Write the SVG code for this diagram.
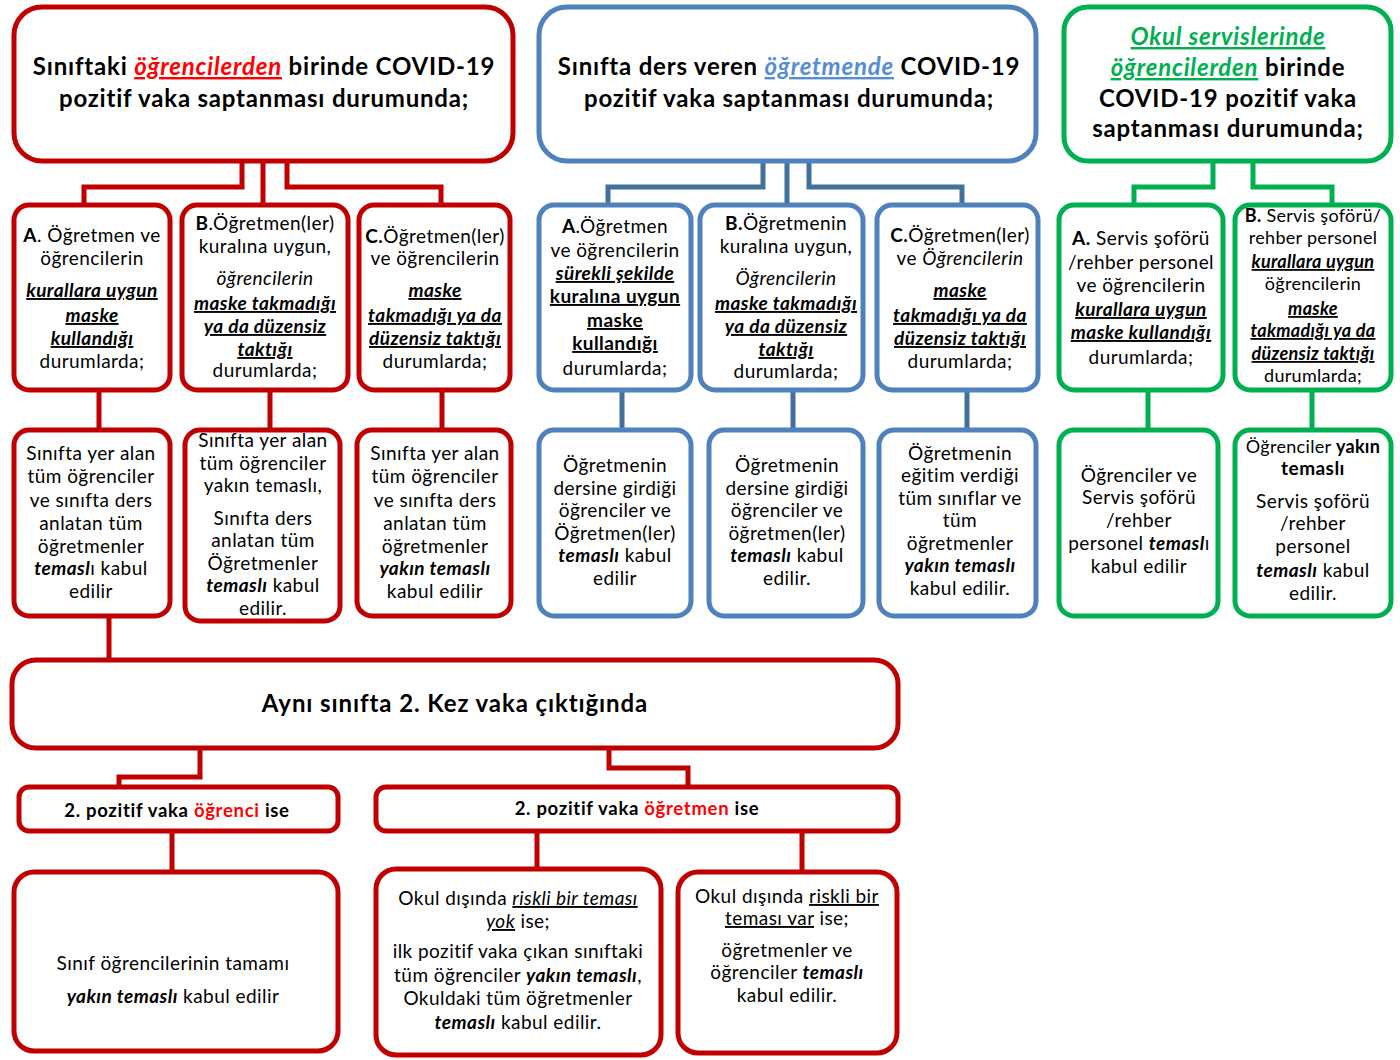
<svg xmlns="http://www.w3.org/2000/svg" width="1400" height="1060" viewBox="0 0 1400 1060">
<style>
text{font-family:Lato,'Liberation Sans','DejaVu Sans',sans-serif;font-size:19px;letter-spacing:0.45px;fill:#000;text-anchor:middle}
.h{font-weight:bold;font-size:24px;letter-spacing:0.8px}
.m{font-weight:bold;font-size:24px;letter-spacing:0.9px}
.s{font-weight:bold;font-size:18.5px;letter-spacing:0.7px}
.n{font-size:18px;letter-spacing:0.3px}
.b{font-weight:bold}
.bi{font-weight:bold;font-style:italic}
.i{font-style:italic}
.u{text-decoration:underline}
.rd{fill:#FF0000}
.bl{fill:#558ED5}
.gr{fill:#00B050}
.R{fill:#fff;stroke:#C00000;stroke-width:5}
.B{fill:#fff;stroke:#4F81BD;stroke-width:5}
.G{fill:#fff;stroke:#00B050;stroke-width:5}
.cR{fill:none;stroke:#C00000;stroke-width:5}
.cB{fill:none;stroke:#41719C;stroke-width:5}
.cG{fill:none;stroke:#00B050;stroke-width:5}
</style>
<rect width="1400" height="1060" fill="#fff"/>
<g id="connectors">
<path class="cR" d="M242 160V187H84V206M263 160V206M287 160V187H441V206"/>
<path class="cB" d="M763 160V187H608V206M787 160V206M809 160V187H962V206"/>
<path class="cG" d="M1213 160V187H1134V206M1253 160V187H1332V206"/>
<path class="cR" d="M99 388V431M270 388V431M442 388V431"/>
<path class="cB" d="M622 388V431M793 388V431M967 388V431"/>
<path class="cG" d="M1148 388V431M1312 388V431"/>
<path class="cR" d="M109 614V661M200 746V777H119V788M609 746V768H688V788M172 829V873M537 829V870M802 829V873"/>
</g>
<g id="hdr-red">
<rect class="R" x="14" y="7" width="499" height="154" rx="28"/>
<text class="h" x="264" y="75">Sınıftaki <tspan class="rd i u">öğrencilerden</tspan>  birinde COVID-19</text>
<text class="h" x="264" y="107">pozitif vaka saptanması durumunda;</text>
</g>
<g id="hdr-blue">
<rect class="B" x="539" y="7" width="497" height="154" rx="28"/>
<text class="h" x="789" y="75">Sınıfta ders veren <tspan class="bl i u">öğretmende</tspan>  COVID-19</text>
<text class="h" x="789" y="107">pozitif vaka saptanması durumunda;</text>
</g>
<g id="hdr-green">
<rect class="G" x="1064" y="7" width="327" height="154" rx="24"/>
<text class="h" x="1228" y="45"><tspan class="gr i u">Okul servislerinde</tspan></text>
<text class="h" x="1228" y="76"><tspan class="gr i u">öğrencilerden</tspan> birinde</text>
<text class="h" x="1228" y="107">COVID-19 pozitif vaka</text>
<text class="h" x="1228" y="137">saptanması durumunda;</text>
</g>
<g id="r2-red-a">
<rect class="R" x="14" y="205" width="156" height="185" rx="15"/>
<text x="92" y="242"><tspan class="b">A</tspan>. Öğretmen ve</text>
<text x="92" y="265">öğrencilerin</text>
<text x="92" y="297" class="bi u">kurallara uygun</text>
<text x="92" y="322" class="bi u">maske</text>
<text x="92" y="345" class="bi u">kullandığı</text>
<text x="92" y="368">durumlarda;</text>
</g>
<g id="r2-red-b">
<rect class="R" x="182" y="205" width="166" height="185" rx="15"/>
<text x="265" y="230"><tspan class="b">B</tspan>.Öğretmen(ler)</text>
<text x="265" y="253">kuralına uygun,</text>
<text x="265" y="285" class="i">öğrencilerin</text>
<text x="265" y="310" class="bi u">maske takmadığı</text>
<text x="265" y="333" class="bi u">ya da  düzensiz</text>
<text x="265" y="356" class="bi u">taktığı</text>
<text x="265" y="377">durumlarda;</text>
</g>
<g id="r2-red-c">
<rect class="R" x="359" y="205" width="151" height="185" rx="15"/>
<text x="435" y="243"><tspan class="b">C.</tspan>Öğretmen(ler)</text>
<text x="435" y="265">ve öğrencilerin</text>
<text x="435" y="297" class="bi u">maske</text>
<text x="435" y="322" class="bi u">takmadığı ya da</text>
<text x="435" y="345" class="bi u">düzensiz taktığı</text>
<text x="435" y="368">durumlarda;</text>
</g>
<g id="r2-blue-a">
<rect class="B" x="539" y="205" width="152" height="185" rx="15"/>
<text x="615" y="233"><tspan class="b">A</tspan>.Öğretmen</text>
<text x="615" y="257">ve öğrencilerin</text>
<text x="615" y="280" class="bi u">sürekli şekilde</text>
<text x="615" y="303" class="b u">kuralına uygun</text>
<text x="615" y="327" class="b u">maske</text>
<text x="615" y="350" class="b u">kullandığı</text>
<text x="615" y="375">durumlarda;</text>
</g>
<g id="r2-blue-b">
<rect class="B" x="700" y="205" width="163" height="185" rx="15"/>
<text x="786" y="230"><tspan class="b">B.</tspan>Öğretmenin</text>
<text x="786" y="253">kuralına uygun,</text>
<text x="786" y="285" class="i">Öğrencilerin</text>
<text x="786" y="310" class="bi u">maske takmadığı</text>
<text x="786" y="333" class="bi u">ya da düzensiz</text>
<text x="786" y="356" class="bi u">taktığı</text>
<text x="786" y="378">durumlarda;</text>
</g>
<g id="r2-blue-c">
<rect class="B" x="877" y="205" width="161" height="185" rx="15"/>
<text x="960" y="242"><tspan class="b">C.</tspan>Öğretmen(ler)</text>
<text x="960" y="265">ve <tspan class="i">Öğrencilerin</tspan></text>
<text x="960" y="297" class="bi u">maske</text>
<text x="960" y="322" class="bi u">takmadığı ya da</text>
<text x="960" y="345" class="bi u">düzensiz taktığı</text>
<text x="960" y="368">durumlarda;</text>
</g>
<g id="r2-green-a">
<rect class="G" x="1059" y="205" width="164" height="185" rx="15"/>
<text x="1141" y="245"><tspan class="b">A.</tspan> Servis şoförü</text>
<text x="1141" y="269">/rehber personel</text>
<text x="1141" y="292">ve öğrencilerin</text>
<text x="1141" y="316" class="bi u">kurallara uygun</text>
<text x="1141" y="339" class="bi u">maske kullandığı</text>
<text x="1141" y="364">durumlarda;</text>
</g>
<g id="r2-green-b">
<rect class="G" x="1235" y="205" width="156" height="185" rx="15"/>
<text class="n" x="1313" y="222"><tspan class="b">B.</tspan> Servis şoförü/</text>
<text class="n" x="1313" y="244">rehber personel</text>
<text class="n bi u" x="1313" y="268">kurallara uygun</text>
<text class="n" x="1313" y="290">öğrencilerin</text>
<text class="n bi u" x="1313" y="315">maske</text>
<text class="n bi u" x="1313" y="337">takmadığı ya da</text>
<text class="n bi u" x="1313" y="360">düzensiz taktığı</text>
<text class="n" x="1313" y="382">durumlarda;</text>
</g>
<g id="r3-red-a">
<rect class="R" x="14" y="430" width="156" height="186" rx="15"/>
<text x="91" y="460">Sınıfta yer alan</text>
<text x="91" y="483">tüm öğrenciler</text>
<text x="91" y="507">ve sınıfta ders</text>
<text x="91" y="530">anlatan tüm</text>
<text x="91" y="553">öğretmenler</text>
<text x="91" y="575"><tspan class="bi">temasl</tspan>ı kabul</text>
<text x="91" y="598">edilir</text>
</g>
<g id="r3-red-b">
<rect class="R" x="185" y="430" width="155" height="191" rx="15"/>
<text x="263" y="447">Sınıfta yer alan</text>
<text x="263" y="470">tüm öğrenciler</text>
<text x="263" y="492">yakın temaslı,</text>
<text x="263" y="525">Sınıfta ders</text>
<text x="263" y="547">anlatan tüm</text>
<text x="263" y="570">Öğretmenler</text>
<text x="263" y="592"><tspan class="bi">temaslı</tspan> kabul</text>
<text x="263" y="615">edilir.</text>
</g>
<g id="r3-red-c">
<rect class="R" x="357" y="430" width="154" height="186" rx="15"/>
<text x="435" y="460">Sınıfta yer alan</text>
<text x="435" y="483">tüm öğrenciler</text>
<text x="435" y="507">ve sınıfta ders</text>
<text x="435" y="530">anlatan tüm</text>
<text x="435" y="553">öğretmenler</text>
<text x="435" y="575" class="bi">yakın temaslı</text>
<text x="435" y="598">kabul edilir</text>
</g>
<g id="r3-blue-a">
<rect class="B" x="539" y="430" width="152" height="186" rx="15"/>
<text x="615" y="472">Öğretmenin</text>
<text x="615" y="495">dersine girdiği</text>
<text x="615" y="517">öğrenciler ve</text>
<text x="615" y="540">Öğretmen(ler)</text>
<text x="615" y="562"><tspan class="bi">temaslı</tspan> kabul</text>
<text x="615" y="585">edilir</text>
</g>
<g id="r3-blue-b">
<rect class="B" x="709" y="430" width="154" height="186" rx="15"/>
<text x="787" y="472">Öğretmenin</text>
<text x="787" y="495">dersine girdiği</text>
<text x="787" y="517">öğrenciler ve</text>
<text x="787" y="540">öğretmen(ler)</text>
<text x="787" y="562"><tspan class="bi">temaslı</tspan> kabul</text>
<text x="787" y="585">edilir.</text>
</g>
<g id="r3-blue-c">
<rect class="B" x="879" y="430" width="157" height="186" rx="15"/>
<text x="960" y="460">Öğretmenin</text>
<text x="960" y="482">eğitim verdiği</text>
<text x="960" y="505">tüm sınıflar ve</text>
<text x="960" y="527">tüm</text>
<text x="960" y="550">öğretmenler</text>
<text x="960" y="572" class="bi">yakın temaslı</text>
<text x="960" y="595">kabul edilir.</text>
</g>
<g id="r3-green-a">
<rect class="G" x="1059" y="430" width="159" height="186" rx="15"/>
<text x="1139" y="482">Öğrenciler  ve</text>
<text x="1139" y="504">Servis şoförü</text>
<text x="1139" y="527">/rehber</text>
<text x="1139" y="550">personel <tspan class="bi">temasl</tspan>ı</text>
<text x="1139" y="573">kabul edilir</text>
</g>
<g id="r3-green-b">
<rect class="G" x="1235" y="430" width="156" height="186" rx="15"/>
<text class="n" x="1313" y="453">Öğrenciler <tspan class="b">yakın</tspan></text>
<text x="1313" y="475" class="b">temaslı</text>
<text x="1313" y="508">Servis şoförü</text>
<text x="1313" y="530">/rehber</text>
<text x="1313" y="553">personel</text>
<text x="1313" y="577"><tspan class="bi">temaslı</tspan> kabul</text>
<text x="1313" y="600">edilir.</text>
</g>
<g id="second-case">
<rect class="R" x="12" y="660" width="886" height="88" rx="24"/>
<text class="m" x="455" y="712">Aynı sınıfta  2. Kez vaka çıktığında</text>
</g>
<g id="student-case">
<rect class="R" x="19" y="787" width="319" height="44" rx="10"/>
<text class="s" x="177" y="817">2. pozitif vaka <tspan class="rd">öğrenci</tspan> ise</text>
</g>
<g id="teacher-case">
<rect class="R" x="376" y="787" width="522" height="44" rx="10"/>
<text class="s" x="637" y="815">2. pozitif vaka <tspan class="rd">öğretmen</tspan> ise</text>
</g>
<g id="student-result">
<rect class="R" x="14" y="872" width="324" height="179" rx="20"/>
<text x="173" y="970">Sınıf öğrencilerinin tamamı</text>
<text x="173" y="1003"><tspan class="bi">yakın temaslı</tspan> kabul edilir</text>
</g>
<g id="no-risk">
<rect class="R" x="376" y="869" width="285" height="186" rx="20"/>
<text x="518" y="905">Okul dışında <tspan class="i u">riskli bir teması</tspan></text>
<text x="518" y="928"><tspan class="i u">yok</tspan> ise;</text>
<text x="518" y="958">ilk pozitif vaka çıkan sınıftaki</text>
<text x="518" y="982">tüm öğrenciler <tspan class="bi">yakın temaslı</tspan>,</text>
<text x="518" y="1005">Okuldaki tüm öğretmenler</text>
<text x="518" y="1029"><tspan class="bi">temaslı</tspan> kabul edilir.</text>
</g>
<g id="risk">
<rect class="R" x="678" y="872" width="219" height="181" rx="20"/>
<text x="787" y="903">Okul dışında <tspan class="u">riskli bir</tspan></text>
<text x="787" y="925"><tspan class="u">teması var</tspan> ise;</text>
<text x="787" y="957">öğretmenler ve</text>
<text x="787" y="979">öğrenciler <tspan class="bi">temaslı</tspan></text>
<text x="787" y="1002">kabul edilir.</text>
</g>
</svg>
